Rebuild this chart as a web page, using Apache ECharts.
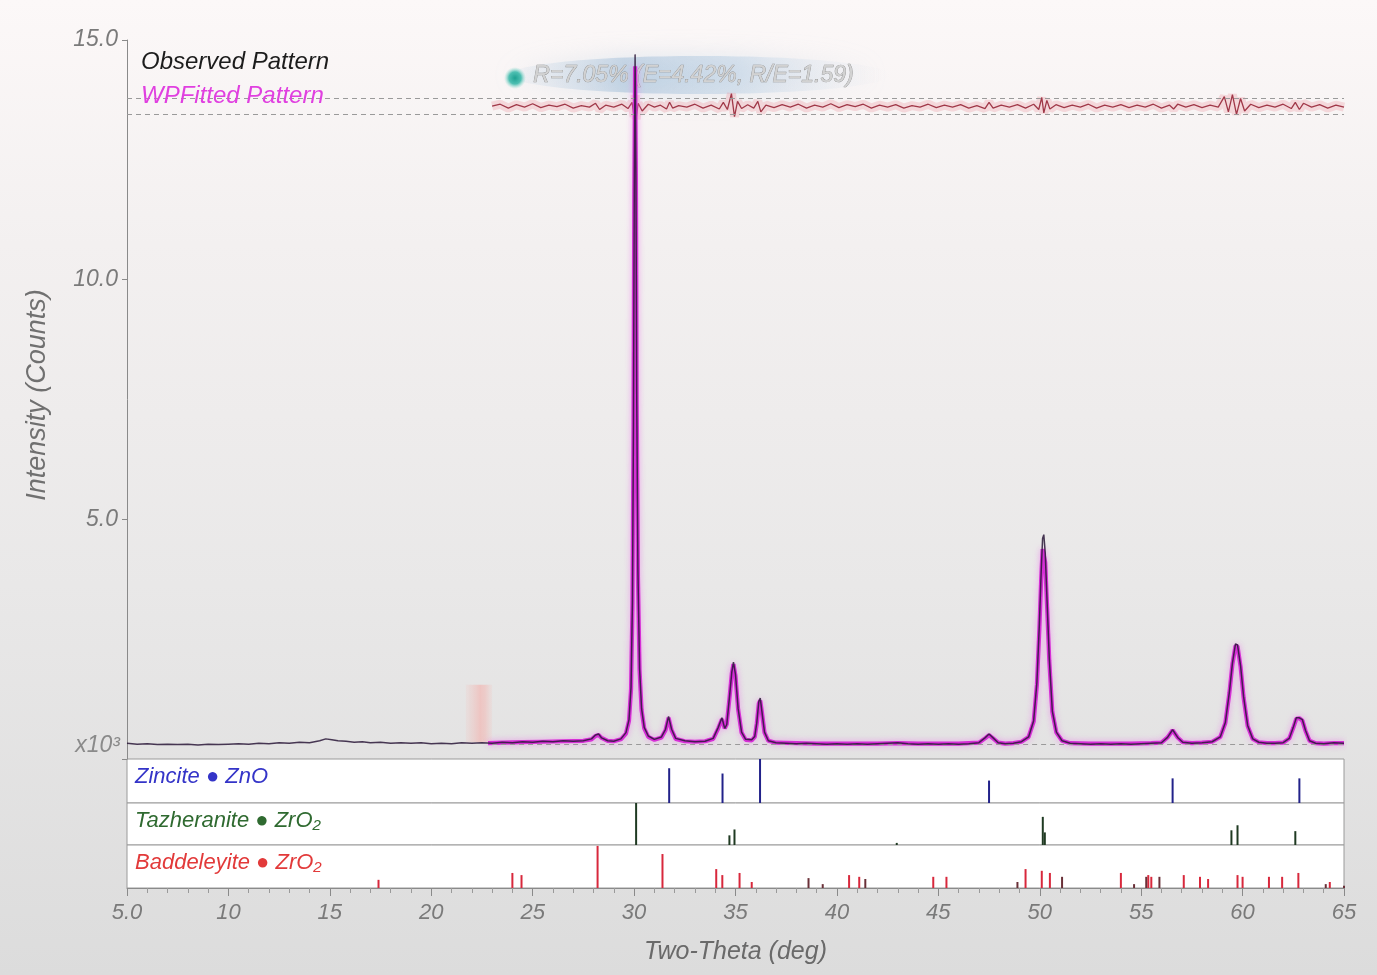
<!DOCTYPE html>
<html>
<head>
<meta charset="utf-8">
<script src="https://cdn.jsdelivr.net/npm/echarts/dist/echarts.min.js"></script>
<style>
  html, body { margin: 0; padding: 0; }
  #chart {
    width: 1377px; height: 975px;
    background: linear-gradient(to bottom, #fcf8f8 0%, #f3f0f0 25%, #e9e8e8 60%, #dcdcdc 100%);
  }
</style>
</head>
<body>
<div id="chart"></div>
<script>
// ---------------- DATA ----------------
const observed = [
  [5.0,0.33],[5.5,0.31],[6.0,0.32],[6.5,0.30],[7.0,0.31],[7.5,0.30],[8.0,0.31],[8.5,0.29],[9.0,0.31],[9.5,0.30],
  [10.0,0.31],[10.5,0.32],[11.0,0.31],[11.5,0.33],[12.0,0.32],[12.5,0.34],[13.0,0.33],[13.5,0.35],[14.0,0.34],
  [14.5,0.38],[14.8,0.42],[15.1,0.40],[15.4,0.38],[15.8,0.37],[16.2,0.35],[16.6,0.36],[17.0,0.34],[17.5,0.35],
  [18.0,0.33],[18.5,0.34],[19.0,0.33],[19.5,0.34],[20.0,0.32],[20.5,0.33],[21.0,0.32],[21.5,0.34],[22.0,0.33],
  [22.5,0.34],[23.0,0.33],[23.5,0.35],[24.0,0.34],[24.5,0.36],[25.0,0.35],[25.5,0.37],[26.0,0.36],[26.5,0.38],
  [27.0,0.37],[27.5,0.38],[27.9,0.42],[28.1,0.50],[28.25,0.52],[28.4,0.44],[28.7,0.38],[29.0,0.37],[29.35,0.42],
  [29.6,0.55],[29.75,0.82],[29.85,1.5],[29.92,3.3],[29.97,7.0],[30.01,12.0],[30.05,14.7],[30.09,12.3],[30.13,7.6],
  [30.19,3.9],[30.27,1.9],[30.37,1.05],[30.5,0.66],[30.7,0.48],[31.0,0.41],[31.35,0.46],[31.55,0.62],[31.7,0.89],
  [31.85,0.62],[32.05,0.43],[32.5,0.38],[33.0,0.36],[33.5,0.37],[33.9,0.43],[34.15,0.66],[34.33,0.86],[34.47,0.64],
  [34.57,0.72],[34.7,1.28],[34.82,1.82],[34.9,2.02],[35.0,1.76],[35.13,1.05],[35.3,0.56],[35.5,0.41],[35.8,0.40],
  [35.95,0.47],[36.05,0.76],[36.15,1.2],[36.22,1.27],[36.3,1.0],[36.43,0.56],[36.62,0.38],[37.0,0.34],[37.5,0.33],
  [38.0,0.32],[38.5,0.33],[39.0,0.32],[39.5,0.31],[40.0,0.32],[40.5,0.31],[41.0,0.32],[41.5,0.31],[42.0,0.32],
  [42.5,0.33],[43.0,0.34],[43.5,0.32],[44.0,0.31],[44.5,0.32],[45.0,0.31],[45.5,0.32],[46.0,0.31],[46.5,0.32],
  [47.0,0.34],[47.3,0.44],[47.5,0.52],[47.7,0.44],[47.95,0.34],[48.3,0.32],[48.7,0.33],[49.1,0.36],[49.45,0.46],
  [49.7,0.8],[49.86,1.6],[49.98,2.8],[50.07,3.9],[50.14,4.6],[50.2,4.68],[50.27,4.3],[50.36,3.3],[50.47,2.1],
  [50.62,1.0],[50.82,0.56],[51.1,0.38],[51.5,0.33],[52.0,0.32],[52.5,0.31],[53.0,0.32],[53.5,0.31],[54.0,0.32],
  [54.5,0.31],[55.0,0.32],[55.5,0.33],[56.0,0.34],[56.3,0.45],[56.55,0.61],[56.8,0.45],[57.05,0.35],[57.5,0.33],
  [58.0,0.34],[58.5,0.36],[58.9,0.46],[59.15,0.76],[59.35,1.4],[59.5,2.0],[59.65,2.4],[59.75,2.38],[59.9,1.95],
  [60.05,1.3],[60.25,0.7],[60.5,0.42],[60.8,0.35],[61.2,0.33],[61.6,0.33],[62.0,0.34],[62.3,0.43],[62.5,0.66],
  [62.65,0.86],[62.8,0.86],[62.95,0.82],[63.1,0.6],[63.3,0.38],[63.6,0.33],[64.0,0.32],[64.5,0.34],[65.0,0.33]
];

const fitted = [
  [22.8,0.33],[23.5,0.34],[24.5,0.35],[25.5,0.36],[26.5,0.37],[27.5,0.38],[27.9,0.41],[28.1,0.48],[28.25,0.50],
  [28.4,0.44],[28.7,0.38],[29.0,0.37],[29.35,0.41],[29.6,0.53],[29.75,0.80],[29.85,1.45],[29.92,3.2],[29.97,6.8],
  [30.01,11.8],[30.05,14.45],[30.09,12.1],[30.13,7.4],[30.19,3.8],[30.27,1.85],[30.37,1.02],[30.5,0.64],
  [30.7,0.46],[31.0,0.40],[31.35,0.45],[31.55,0.60],[31.7,0.86],[31.85,0.60],[32.05,0.42],[32.5,0.37],[33.0,0.36],
  [33.5,0.37],[33.9,0.42],[34.15,0.64],[34.33,0.83],[34.47,0.64],[34.57,0.73],[34.7,1.26],[34.82,1.79],[34.9,1.98],
  [35.0,1.73],[35.13,1.03],[35.3,0.55],[35.5,0.40],[35.8,0.39],[35.95,0.46],[36.05,0.74],[36.15,1.16],[36.22,1.22],
  [36.3,0.98],[36.43,0.55],[36.62,0.38],[37.0,0.34],[38.0,0.33],[39.0,0.32],[40.0,0.32],[41.0,0.32],[42.0,0.32],
  [43.0,0.33],[44.0,0.32],[45.0,0.32],[46.0,0.32],[47.0,0.34],[47.3,0.43],[47.5,0.50],[47.7,0.43],[47.95,0.34],
  [48.3,0.32],[48.7,0.33],[49.1,0.36],[49.45,0.46],[49.7,0.78],[49.86,1.55],[49.98,2.7],[50.07,3.75],[50.14,4.38],
  [50.2,4.42],[50.27,4.1],[50.36,3.2],[50.47,2.05],[50.62,0.98],[50.82,0.55],[51.1,0.38],[51.5,0.33],[52.5,0.32],
  [53.5,0.32],[54.5,0.32],[55.5,0.33],[56.0,0.34],[56.3,0.45],[56.55,0.60],[56.8,0.45],[57.05,0.35],[57.5,0.33],
  [58.0,0.34],[58.5,0.36],[58.9,0.46],[59.15,0.75],[59.35,1.38],[59.5,1.98],[59.65,2.36],[59.75,2.35],[59.9,1.93],
  [60.05,1.28],[60.25,0.69],[60.5,0.42],[60.8,0.35],[61.2,0.33],[61.6,0.33],[62.0,0.34],[62.3,0.43],[62.5,0.65],
  [62.65,0.84],[62.8,0.85],[62.95,0.80],[63.1,0.59],[63.3,0.38],[63.6,0.33],[64.0,0.32],[64.5,0.33],[65.0,0.33]
];

const difference = [
  [23.0,13.62],[23.4,13.66],[23.8,13.58],[24.2,13.65],[24.6,13.60],[25.0,13.67],[25.4,13.59],[25.8,13.64],
  [26.2,13.61],[26.6,13.66],[27.0,13.58],[27.4,13.63],[27.8,13.60],[28.1,13.68],[28.3,13.55],[28.6,13.64],
  [29.0,13.60],[29.4,13.66],[29.7,13.57],[29.9,13.70],[30.0,13.40],[30.05,13.85],[30.1,13.35],[30.2,13.68],
  [30.4,13.52],[30.7,13.66],[31.0,13.60],[31.3,13.64],[31.6,13.56],[31.75,13.70],[31.9,13.58],[32.2,13.63],
  [32.6,13.60],[33.0,13.66],[33.4,13.58],[33.8,13.64],[34.2,13.56],[34.4,13.70],[34.6,13.55],[34.8,13.88],
  [34.95,13.40],[35.1,13.72],[35.3,13.57],[35.6,13.65],[35.9,13.58],[36.1,13.72],[36.25,13.50],[36.5,13.64],
  [36.9,13.59],[37.3,13.65],[37.7,13.60],[38.1,13.66],[38.5,13.58],[38.9,13.64],[39.3,13.60],[39.7,13.67],
  [40.1,13.59],[40.5,13.65],[40.9,13.61],[41.3,13.66],[41.7,13.58],[42.1,13.64],[42.5,13.60],[42.9,13.65],
  [43.3,13.58],[43.7,13.63],[44.1,13.60],[44.5,13.66],[44.9,13.59],[45.3,13.64],[45.7,13.60],[46.1,13.65],
  [46.5,13.58],[46.9,13.63],[47.3,13.57],[47.5,13.70],[47.7,13.58],[48.1,13.64],[48.5,13.60],[48.9,13.65],
  [49.3,13.58],[49.7,13.66],[49.95,13.55],[50.1,13.80],[50.2,13.48],[50.35,13.74],[50.5,13.56],[50.8,13.65],
  [51.2,13.59],[51.6,13.64],[52.0,13.60],[52.4,13.66],[52.8,13.58],[53.2,13.64],[53.6,13.60],[54.0,13.65],
  [54.4,13.59],[54.8,13.64],[55.2,13.60],[55.6,13.66],[56.0,13.58],[56.4,13.64],[56.6,13.56],[56.8,13.66],
  [57.2,13.60],[57.6,13.65],[58.0,13.59],[58.4,13.64],[58.8,13.60],[59.1,13.82],[59.3,13.50],[59.5,13.86],
  [59.7,13.45],[59.9,13.78],[60.1,13.52],[60.4,13.66],[60.8,13.59],[61.2,13.64],[61.6,13.60],[62.0,13.66],
  [62.4,13.57],[62.6,13.70],[62.8,13.55],[63.0,13.68],[63.4,13.60],[63.8,13.65],[64.2,13.58],[64.6,13.64],
  [65.0,13.60]
];

const diffUpperLevel = 13.79;
const diffLowerLevel = 13.46;
const backgroundLevel = 0.30;
const excludedRange = [21.7, 23.0];
const excludedHeight = [0.35, 1.55];

const zincite = [[31.73,79],[34.36,67],[36.21,100],[47.5,51],[56.55,56],[62.8,56]];
const tazheranite = [[30.1,100],[34.7,23],[34.95,37],[42.95,5],[50.15,67],[50.25,30],[59.45,35],[59.75,47],[62.6,33]];
const baddeleyite = [[17.4,19],[24.0,35],[24.45,30],[28.2,98],[31.4,79],[34.05,44],[34.35,30],[35.2,35],[35.8,14],
  [40.6,30],[41.1,26],[44.75,26],[45.4,26],[49.3,44],[50.1,40],[50.5,35],[54.0,35],[55.35,30],[55.5,26],
  [57.1,30],[57.9,26],[58.3,21],[59.75,30],[60.0,26],[61.3,26],[61.95,26],[62.75,35],[64.3,14]];
const baddeleyiteMinor = [[38.6,23],[39.3,9],[41.4,21],[48.9,14],[51.1,26],[54.65,9],[55.25,26],[55.9,26],[64.1,9],[65.0,5]];

const yTickLabels = ['', '5.0', '10.0', '15.0'];
const statsText = 'R=7.05% (E=4.42%, R/E=1.59)';
const phaseLabels = ['Zincite ● ZnO', 'Tazheranite ● ZrO₂', 'Baddeleyite ● ZrO₂'];
const legendLabels = ['Observed Pattern', 'WPFitted Pattern'];

// ---------------- CHART ----------------
const FONT = "'Liberation Sans', Arial, sans-serif";
const chart = echarts.init(document.getElementById('chart'), null, {renderer: 'canvas'});

const L = 127, W = 1217;
const grids = [
  {left: L, width: W, top: 40, height: 719},
  {left: L, width: W, top: 759, height: 44},
  {left: L, width: W, top: 803, height: 42},
  {left: L, width: W, top: 845, height: 43}
];

function hiddenX(i) {
  return {gridIndex: i, type: 'value', min: 5, max: 65, show: false};
}
function stickY(i) {
  return {gridIndex: i, type: 'value', min: 0, max: 100, show: false};
}

const option = {
  animation: false,
  backgroundColor: 'transparent',
  grid: grids.map((g, i) => Object.assign({}, g, i === 0 ? {} : {
    show: true, backgroundColor: '#ffffff', borderColor: '#9a9a9a', borderWidth: 1
  })),
  xAxis: [
    hiddenX(0), hiddenX(1), hiddenX(2),
    {
      gridIndex: 3, type: 'value', min: 5, max: 65, interval: 5,
      axisLine: {show: true, lineStyle: {color: '#8a8a8a', width: 1}},
      axisTick: {show: true, length: 8, lineStyle: {color: '#8a8a8a'}},
      minorTick: {show: true, splitNumber: 5, length: 5, lineStyle: {color: '#9a9a9a'}},
      splitLine: {show: false},
      axisLabel: {
        margin: 14, color: '#7a7a7a', fontSize: 22, fontStyle: 'italic', fontFamily: FONT,
        formatter: v => (v === 5 ? '5.0' : String(v))
      },
      name: 'Two-Theta (deg)', nameLocation: 'middle', nameGap: 52,
      nameTextStyle: {color: '#6a6a6a', fontSize: 25, fontStyle: 'italic', fontFamily: FONT}
    }
  ],
  yAxis: [
    {
      gridIndex: 0, type: 'value', min: 0, max: 15, interval: 5,
      axisLine: {show: true, lineStyle: {color: '#8a8a8a'}},
      axisTick: {show: true, length: 5, lineStyle: {color: '#8a8a8a'}},
      splitLine: {show: false},
      axisLabel: {
        margin: 9, color: '#7a7a7a', fontSize: 23, fontStyle: 'italic', fontFamily: FONT,
        formatter: (v) => yTickLabels[Math.round(v / 5)]
      }
    },
    stickY(1), stickY(2), stickY(3)
  ],
  series: [
    // difference curve halo + line
    {
      type: 'line', xAxisIndex: 0, yAxisIndex: 0, data: difference, showSymbol: false, silent: true,
      lineStyle: {color: 'rgba(235,140,150,0.28)', width: 9}, z: 2,
      markLine: {
        silent: true, symbol: 'none', label: {show: false},
        lineStyle: {color: '#9a9a9a', type: [5, 4], width: 1},
        data: [
          {yAxis: diffUpperLevel},
          {yAxis: diffLowerLevel},
          [{coord: [23.0, backgroundLevel]}, {coord: [65, backgroundLevel]}]
        ]
      }
    },
    {
      type: 'line', xAxisIndex: 0, yAxisIndex: 0, data: difference, showSymbol: false, silent: true,
      lineStyle: {color: '#a03848', width: 1.3}, z: 3
    },
    // fitted pattern
    {
      type: 'line', xAxisIndex: 0, yAxisIndex: 0, data: fitted, showSymbol: false, silent: true,
      lineStyle: {color: '#d62fd6', width: 4.2, shadowColor: 'rgba(235,110,235,0.6)', shadowBlur: 6}, z: 4,
      markArea: {
        silent: true,
        itemStyle: {
          color: new echarts.graphic.LinearGradient(0, 0, 1, 0, [
            {offset: 0, color: 'rgba(245,190,185,0.15)'},
            {offset: 0.55, color: 'rgba(245,170,165,0.55)'},
            {offset: 0.75, color: 'rgba(245,175,170,0.45)'},
            {offset: 1, color: 'rgba(245,190,185,0.15)'}
          ])
        },
        data: [[{coord: [excludedRange[0], excludedHeight[0]]}, {coord: [excludedRange[1], excludedHeight[1]]}]]
      }
    },
    // observed pattern
    {
      type: 'line', xAxisIndex: 0, yAxisIndex: 0, data: observed, showSymbol: false, silent: true,
      lineStyle: {color: '#2a1838', width: 1.5, opacity: 0.85}, z: 5
    },
    // phase sticks
    {
      type: 'bar', xAxisIndex: 1, yAxisIndex: 1, data: zincite, barWidth: 2, silent: true,
      itemStyle: {color: '#22228a'}
    },
    {
      type: 'bar', xAxisIndex: 2, yAxisIndex: 2, data: tazheranite, barWidth: 2, silent: true,
      itemStyle: {color: '#1f3a22'}
    },
    {
      type: 'bar', xAxisIndex: 3, yAxisIndex: 3, data: baddeleyite, barWidth: 2, barGap: '-100%', silent: true,
      itemStyle: {color: '#d8283c'}
    },
    {
      type: 'bar', xAxisIndex: 3, yAxisIndex: 3, data: baddeleyiteMinor, barWidth: 2, barGap: '-100%', silent: true,
      itemStyle: {color: '#6a3038'}
    }
  ],
  graphic: [
    // blue glow behind statistics
    {
      type: 'ellipse', z: 1, silent: true,
      shape: {cx: 700, cy: 75, rx: 190, ry: 19},
      style: {
        fill: new echarts.graphic.LinearGradient(0, 0, 1, 0, [
          {offset: 0, color: 'rgba(190,210,228,0.1)'},
          {offset: 0.3, color: 'rgba(150,182,212,0.45)'},
          {offset: 0.6, color: 'rgba(165,195,222,0.35)'},
          {offset: 1, color: 'rgba(210,222,238,0.0)'}
        ]),
        shadowBlur: 24, shadowColor: 'rgba(170,198,222,0.7)'
      }
    },
    {
      type: 'circle', z: 1, silent: true,
      shape: {cx: 515, cy: 78, r: 11},
      style: {
        fill: new echarts.graphic.RadialGradient(0.5, 0.5, 0.5, [
          {offset: 0, color: 'rgba(30,160,145,1)'},
          {offset: 0.55, color: 'rgba(60,185,170,0.9)'},
          {offset: 1, color: 'rgba(150,220,210,0)'}
        ])
      }
    },
    {
      type: 'text', z: 1, silent: true, left: 533, top: 64,
      style: {
        text: statsText, font: 'italic 23px ' + FONT,
        fill: '#d2d2d2', stroke: '#8c8c8c', lineWidth: 0.7
      }
    },
    {
      type: 'text', z: 10, silent: true, left: 141, top: 50,
      style: {text: legendLabels[0], font: 'italic 24px ' + FONT, fill: '#1c1c1c'}
    },
    {
      type: 'text', z: 10, silent: true, left: 141, top: 84,
      style: {text: legendLabels[1], font: 'italic 24px ' + FONT, fill: '#e040e0'}
    },
    {
      type: 'text', z: 10, silent: true, left: 135, top: 766,
      style: {text: phaseLabels[0], font: 'italic 22px ' + FONT, fill: '#3434c8'}
    },
    {
      type: 'text', z: 10, silent: true, left: 135, top: 810,
      style: {text: phaseLabels[1], font: 'italic 22px ' + FONT, fill: '#2f6a30'}
    },
    {
      type: 'text', z: 10, silent: true, left: 135, top: 852,
      style: {text: phaseLabels[2], font: 'italic 22px ' + FONT, fill: '#e23a3a'}
    },
    {
      type: 'text', z: 10, silent: true, right: 1377 - 120, top: 734,
      style: {text: 'x10³', font: 'italic 23px ' + FONT, fill: '#8a8a8a'}
    },
    {
      type: 'text', z: 10, silent: true, x: 37, y: 395, rotation: Math.PI / 2,
      style: {
        text: 'Intensity (Counts)', font: 'italic 27px ' + FONT, fill: '#707070',
        textAlign: 'center', textVerticalAlign: 'middle'
      }
    }
  ]
};

chart.setOption(option);
</script>
</body>
</html>
